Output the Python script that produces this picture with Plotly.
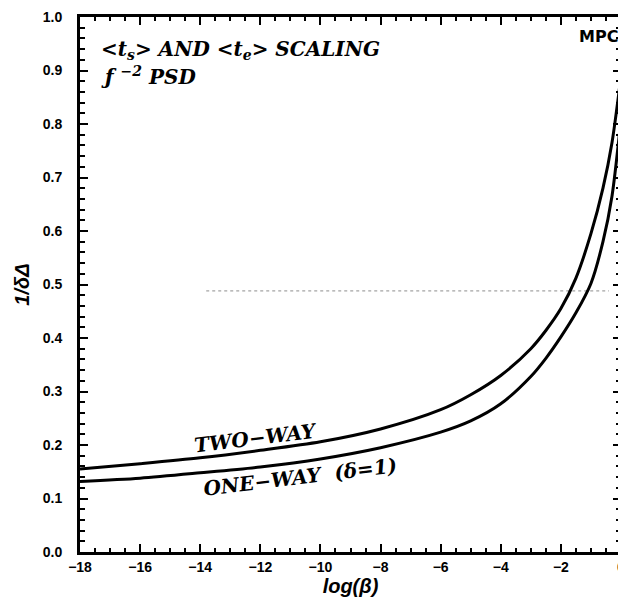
import plotly.graph_objects as go

# ---- data ----
log_beta = [-18, -16, -14, -12, -10, -8, -6, -5, -4, -3, -2.5, -2, -1.5, -1.0, -0.6, -0.3, 0]
two_way = [0.155, 0.165, 0.176, 0.190, 0.206, 0.230, 0.266, 0.294, 0.330, 0.380, 0.414,
           0.455, 0.512, 0.595, 0.680, 0.765, 0.890]
one_way = [0.132, 0.138, 0.148, 0.159, 0.174, 0.195, 0.224, 0.245, 0.277, 0.328, 0.362,
           0.402, 0.447, 0.502, 0.580, 0.665, 0.810]

x_ticks = [-18, -16, -14, -12, -10, -8, -6, -4, -2, 0]
y_ticks = [0.0, 0.1, 0.2, 0.3, 0.4, 0.5, 0.6, 0.7, 0.8, 0.9, 1.0]
y_tick_text = [f"{v:.1f}" for v in y_ticks]

serif_bi = dict(family="DejaVu Serif", size=20, color="black", weight="bold", style="italic")

fig = go.Figure()
for ys, name in [(two_way, "TWO-WAY"), (one_way, "ONE-WAY (δ=1)")]:
    fig.add_trace(go.Scatter(x=log_beta, y=ys, mode="lines", name=name,
                             line=dict(color="black", width=3, shape="spline", smoothing=0.8),
                             showlegend=False, cliponaxis=True))

# faint dotted scan line
fig.add_shape(type="line", x0=-13.8, x1=-0.4, y0=0.488, y1=0.488, xref="x", yref="y",
              line=dict(color="rgba(0,0,0,0.45)", width=1, dash="dot"), layer="below")

fig.add_annotation(x=0.035, y=0.967, xref="paper", yref="paper", xanchor="left", yanchor="top",
                   text="<t<sub>s</sub>> AND <t<sub>e</sub>> SCALING", showarrow=False, font=serif_bi)
fig.add_annotation(x=0.035, y=0.918, xref="paper", yref="paper", xanchor="left", yanchor="top",
                   text="ƒ <sup>−2</sup> PSD", showarrow=False, font=serif_bi)
fig.add_annotation(x=-12.15, y=0.213, xref="x", yref="y", text="TWO−WAY", showarrow=False,
                   textangle=-7, font=serif_bi)
fig.add_annotation(x=-10.67, y=0.140, xref="x", yref="y", text="ONE−WAY  (δ=1)", showarrow=False,
                   textangle=-7, font=serif_bi)
fig.add_annotation(x=0.998, y=0.985, xref="paper", yref="paper", xanchor="right", yanchor="top",
                   text="MPC", showarrow=False,
                   font=dict(family="DejaVu Sans", size=16, color="black", weight="bold"))

axis_common = dict(showgrid=False, zeroline=False, showline=True, linecolor="black", linewidth=3,
                   mirror="allticks", ticks="inside", tickcolor="black", tickwidth=2, ticklen=8,
                   ticklabeloverflow="allow")

fig.update_xaxes(range=[-18, 0], tickvals=x_ticks, **axis_common,
                 minor=dict(dtick=0.5, ticks="inside", ticklen=4, tickwidth=2, tickcolor="black"),
                 tickfont=dict(family="Liberation Sans", size=14, color="black", weight="bold"),
                 title=dict(text="log(β)", standoff=5,
                            font=dict(family="Liberation Sans", size=20, color="black",
                                      weight="bold", style="italic")))
fig.update_yaxes(range=[0, 1.0], tickvals=y_ticks, ticktext=y_tick_text, **axis_common,
                 minor=dict(dtick=0.02, ticks="inside", ticklen=5, tickwidth=2, tickcolor="black"),
                 ticklabelstandoff=12,
                 tickfont=dict(family="Liberation Sans", size=14, color="black", weight="bold"),
                 title=dict(text="1/δΔ", standoff=8,
                            font=dict(family="Liberation Sans", size=20, color="black",
                                      weight="bold", style="italic")))

# page body adds an 8px offset, so the figure is sized to fill the 626x607 window
fig.update_layout(width=618, height=599, margin=dict(l=72, r=1, t=8, b=55),
                  plot_bgcolor="white", paper_bgcolor="white")

fig.write_html("out.html")
